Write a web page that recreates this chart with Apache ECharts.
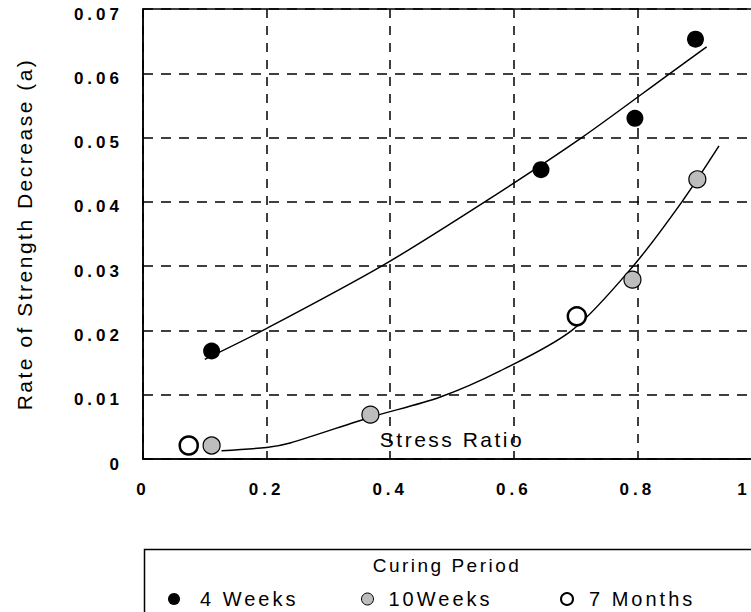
<!DOCTYPE html>
<html>
<head>
<meta charset="utf-8">
<script src="https://cdn.jsdelivr.net/npm/echarts@6/dist/echarts.min.js"></script>
<style>
  html, body { margin: 0; padding: 0; background: #fff; }
  #chart { width: 751px; height: 612px; }
  #chart text { letter-spacing: 2.5px; }
  #chart text[style*="20px"] { letter-spacing: 3px; }
  #chart text[style*="bold"] { letter-spacing: 4px; }
</style>
</head>
<body>
<div id="chart"></div>
<script>
// ---- data ----
const xTicks = [0, 0.2, 0.4, 0.6, 0.8, 1];
const yTicks = [0, 0.01, 0.02, 0.03, 0.04, 0.05, 0.06, 0.07];

const weeks4X = [0.111, 0.644, 0.796, 0.894];
const weeks4Y = [0.0168, 0.0450, 0.0530, 0.0653];
const weeks10X = [0.111, 0.368, 0.792, 0.897];
const weeks10Y = [0.0021, 0.0069, 0.0279, 0.0435];
const months7X = [0.074, 0.702];
const months7Y = [0.0021, 0.0222];

const fit4X = [0.100, 0.194, 0.386, 0.553, 0.710, 0.853, 0.912];
const fit4Y = [0.0155, 0.0200, 0.0300, 0.0400, 0.0500, 0.0600, 0.0641];
const fit10X = [0.127, 0.200, 0.238, 0.368, 0.480, 0.578, 0.694, 0.793, 0.872, 0.932];
const fit10Y = [0.0013, 0.0018, 0.0025, 0.0065, 0.0096, 0.0137, 0.0200, 0.0300, 0.0400, 0.0487];

const seriesNames = ['4 Weeks', '10Weeks', '7 Months'];
const legendTitle = 'Curing Period';
const xName = 'Stress Ratio';
const yName = 'Rate of Strength Decrease (a)';

const zip = (xs, ys) => xs.map((x, i) => [x, ys[i]]);
const FONT = 'Liberation Sans';

const legendText = (pad) => ({ fontFamily: FONT, fontSize: 20, color: '#000', padding: [0, 0, 0, pad] });

const chart = echarts.init(document.getElementById('chart'), null, { renderer: 'svg' });
chart.setOption({
  animation: false,
  backgroundColor: '#fff',
  textStyle: { fontFamily: FONT },
  grid: {
    left: 143, top: 9, width: 618, height: 450,
    outerBoundsMode: 'none', containLabel: false,
    show: true, borderColor: '#000', borderWidth: 1.5
  },
  title: {
    text: legendTitle, left: 447, top: 556, textAlign: 'center', padding: 0,
    textStyle: { fontFamily: FONT, fontSize: 19, fontWeight: 'normal', color: '#000' }
  },
  legend: [
    { data: [seriesNames[0]], left: 168, top: 589, padding: 0, itemWidth: 12, itemHeight: 12,
      textStyle: legendText(15) },
    { data: [seriesNames[1]], left: 361, top: 589, padding: 0, itemWidth: 12, itemHeight: 12,
      textStyle: legendText(10), itemStyle: { borderWidth: 1 } },
    { data: [seriesNames[2]], left: 560, top: 589, padding: 0, itemWidth: 12, itemHeight: 12,
      textStyle: legendText(11), itemStyle: { borderWidth: 2 } }
  ],
  graphic: [
    { type: 'rect', left: 142, top: 547, silent: true,
      shape: { width: 640, height: 100 },
      style: { fill: 'none', stroke: '#000', lineWidth: 1.5 } }
  ],
  xAxis: {
    type: 'value', min: xTicks[0], max: xTicks[xTicks.length - 1], interval: 0.2,
    name: xName, nameLocation: 'middle', nameGap: -30,
    nameTextStyle: { fontFamily: FONT, fontSize: 21, color: '#000' },
    axisLine: { show: true, lineStyle: { color: '#000', width: 1.5 } },
    axisTick: { show: false },
    axisLabel: {
      color: '#000', fontFamily: FONT, fontWeight: 'bold', fontSize: 17, margin: 22,
      formatter: v => (v === 0 ? '0' : v === 1 ? '{e|1}' : v.toFixed(1)),
      rich: { e: { fontFamily: FONT, fontWeight: 'bold', fontSize: 17, color: '#000', padding: [0, 34, 0, 0] } }
    },
    splitLine: { show: true, lineStyle: { color: '#000', width: 1.5, type: [9, 8] } }
  },
  yAxis: {
    type: 'value', min: yTicks[0], max: yTicks[yTicks.length - 1], interval: 0.01,
    name: yName, nameLocation: 'middle', nameGap: 108,
    nameTextStyle: { fontFamily: FONT, fontSize: 21, color: '#000' },
    axisLine: { show: true, lineStyle: { color: '#000', width: 1.5 } },
    axisTick: { show: false },
    axisLabel: {
      color: '#000', fontFamily: FONT, fontWeight: 'bold', fontSize: 17, margin: 20,
      verticalAlign: 'top', lineHeight: 10,
      formatter: v => (v === 0 ? '0' : v.toFixed(2))
    },
    splitLine: { show: true, lineStyle: { color: '#000', width: 1.5, type: [10, 8] } }
  },
  series: [
    { name: 'fit 4 weeks', type: 'line', data: zip(fit4X, fit4Y), smooth: 0.3,
      showSymbol: false, silent: true, lineStyle: { color: '#000', width: 1.5 }, z: 3 },
    { name: 'fit 10 weeks', type: 'line', data: zip(fit10X, fit10Y), smooth: 0.3,
      showSymbol: false, silent: true, lineStyle: { color: '#000', width: 1.5 }, z: 3 },
    { name: seriesNames[0], type: 'scatter', data: zip(weeks4X, weeks4Y), symbol: 'circle',
      symbolSize: 17, itemStyle: { color: '#000', opacity: 1 }, z: 5 },
    { name: seriesNames[1], type: 'scatter', data: zip(weeks10X, weeks10Y), symbol: 'circle',
      symbolSize: 17, itemStyle: { color: '#bdbdbd', borderColor: '#000', borderWidth: 1.2, opacity: 1 }, z: 5 },
    { name: seriesNames[2], type: 'scatter', data: zip(months7X, months7Y), symbol: 'circle',
      symbolSize: 18, itemStyle: { color: '#fff', borderColor: '#000', borderWidth: 2.5, opacity: 1 }, z: 5 }
  ]
});
</script>
</body>
</html>
